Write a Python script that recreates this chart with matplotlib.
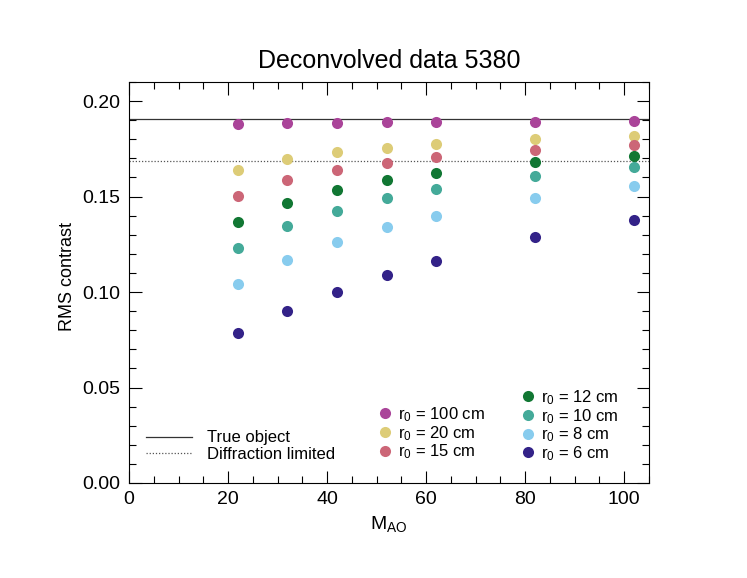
import numpy as np
import matplotlib.pyplot as plt
from matplotlib.lines import Line2D
from matplotlib.ticker import MultipleLocator, FormatStrFormatter

plt.rcParams['font.family'] = ['Liberation Sans', 'DejaVu Sans']
plt.rcParams['mathtext.fontset'] = 'custom'
plt.rcParams['mathtext.rm'] = 'Liberation Sans'
plt.rcParams['mathtext.it'] = 'Liberation Sans'

# datos
m_ao = [22, 32, 42, 52, 62, 82, 102]
r0_labels = ["100", "20", "15", "12", "10", "8", "6"]
rms = {
    "100": [0.1879, 0.1884, 0.1885, 0.1889, 0.1891, 0.1892, 0.1894],
    "20":  [0.1641, 0.1696, 0.1731, 0.1757, 0.1776, 0.1802, 0.1819],
    "15":  [0.1505, 0.1585, 0.1637, 0.1677, 0.1705, 0.1743, 0.1769],
    "12":  [0.1366, 0.1465, 0.1535, 0.1585, 0.1625, 0.1679, 0.1714],
    "10":  [0.1233, 0.1345, 0.1427, 0.1490, 0.1538, 0.1608, 0.1653],
    "8":   [0.1043, 0.1167, 0.1260, 0.1339, 0.1398, 0.1491, 0.1554],
    "6":   [0.0785, 0.0901, 0.1000, 0.1090, 0.1165, 0.1286, 0.1377],
}
true_object = 0.1906
diff_limited = 0.1684
colors = ["#AA4499", "#DDCC77", "#CC6677", "#117733", "#44AA99", "#88CCEE", "#332288"]

fig = plt.figure(figsize=(7.47, 5.78), dpi=100)
ax = fig.add_axes([0.1727, 0.1644, 0.6961, 0.6937])

ax.axhline(true_object, color="#333333", lw=0.9)
ax.axhline(diff_limited, color="#555555", lw=0.9, ls=(0, (1, 1.5)))

handles = {}
for lab, c in zip(r0_labels, colors):
    h, = ax.plot(m_ao, rms[lab], 'o', color=c, ms=8, mec='none')
    handles[lab] = h

ax.set_xlim(0, 105)
ax.set_ylim(0, 0.21)
ax.xaxis.set_major_locator(MultipleLocator(20))
ax.xaxis.set_minor_locator(MultipleLocator(5))
ax.yaxis.set_major_locator(MultipleLocator(0.05))
ax.yaxis.set_minor_locator(MultipleLocator(0.01))
ax.yaxis.set_major_formatter(FormatStrFormatter('%.2f'))
ax.tick_params(which='both', direction='in', top=True, right=True, labelsize=14)
ax.tick_params(which='major', length=9, width=0.8, pad=6)
ax.tick_params(which='minor', length=5, width=0.8)
for s in ax.spines.values():
    s.set_linewidth(0.8)

ax.set_title("Deconvolved data 5380", fontsize=18, pad=10)
ax.set_xlabel(r"M$_{\rm AO}$", fontsize=14)
ax.set_ylabel("RMS contrast", fontsize=13)
ax.yaxis.set_label_coords(-0.101, 0.516)

def lab(r):
    return r"r$_{\rm 0}$ = " + r + " cm"

# leyenda de lineas
lh = [Line2D([], [], color="#333333", lw=0.9),
      Line2D([], [], color="#555555", lw=0.9, ls=(0, (1, 1.5)))]
leg1 = ax.legend(lh, ["True object", "Diffraction limited"], loc='lower left',
                 bbox_to_anchor=(0.032, 0.052), frameon=False, fontsize=12,
                 handlelength=2.8, handletextpad=0.9, labelspacing=0.1,
                 borderpad=0, borderaxespad=0)
ax.add_artist(leg1)

# leyenda de r0 (dos columnas)
blank = Line2D([], [], ls='none', marker='none')
mh = [blank] + [handles[r] for r in r0_labels]
ml = [""] + [lab(r) for r in r0_labels]
leg2 = ax.legend(mh, ml, ncol=2, loc='lower left', bbox_to_anchor=(0.48, 0.05),
                 frameon=False, fontsize=12, handlelength=0.8, handletextpad=0.35,
                 labelspacing=0.0, columnspacing=2.2, borderpad=0, borderaxespad=0)

fig.savefig("out.png", dpi=100)
